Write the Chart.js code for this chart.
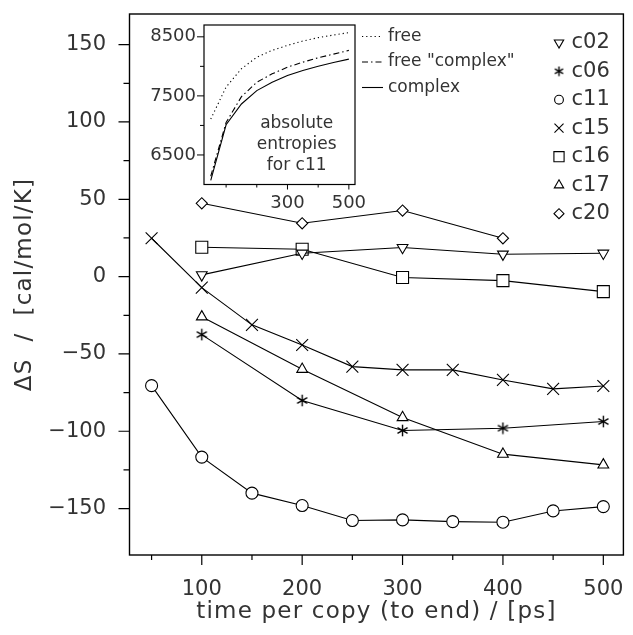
<!DOCTYPE html>
<html>
<head>
<meta charset="utf-8">
<script src="https://cdn.jsdelivr.net/npm/chart.js@4.4.1/dist/chart.umd.min.js"></script>
<style>
  html, body { margin: 0; padding: 0; background: #fff; }
  #wrap { position: relative; width: 633px; height: 635px; }
  #main { position: absolute; left: 0; top: 0; }
  #inset { position: absolute; left: 140px; top: 15px; }
</style>
</head>
<body>
<div id="wrap">
  <canvas id="main" width="633" height="635"></canvas>
  <canvas id="inset" width="225" height="205"></canvas>
</div>
<script>
// main plot: entropy differences per system
const seriesNames = ['c02', 'c06', 'c11', 'c15', 'c16', 'c17', 'c20'];
const timesShort = [100, 200, 300, 400, 500];
const timesLong = [50, 100, 150, 200, 250, 300, 350, 400, 450, 500];
const timesC20 = [100, 200, 300, 400];

const c02 = [1.1, 15.1, 18.8, 14.5, 15.1];
const c06 = [-37.5, -80.1, -99.5, -98, -93.7];
const c11 = [-70.5, -116.7, -140, -148, -157.7, -157.3, -158.4, -158.8, -151.5, -148.7];
const c15 = [24.8, -7.1, -31.2, -44.2, -58.2, -60.3, -60.3, -66.8, -72.6, -70.7];
const c16 = [19.0, 17.7, -0.6, -2.6, -9.7];
const c17 = [-26, -59.9, -91.1, -114.8, -121.7];
const c20 = [47.4, 34.5, 42.7, 24.8];

const xTicks = [100, 200, 300, 400, 500];
const yTicks = [-150, -100, -50, 0, 50, 100, 150];

// inset: absolute entropies for c11
const insetTimes = [50, 100, 150, 200, 250, 300, 350, 400, 450, 500];
const freeS = [7108, 7650, 7959, 8156, 8270, 8355, 8429, 8486, 8530, 8571];
const freeComplexS = [6140, 7050, 7487, 7731, 7873, 7986, 8071, 8146, 8207, 8270];
const complexS = [6069, 7011, 7363, 7589, 7731, 7845, 7930, 8003, 8066, 8122];
const insetXTicks = [300, 500];
const insetYTicks = [6500, 7500, 8500];
const lineLegend = ['free', 'free "complex"', 'complex'];

const FONT = 'DejaVu Sans';
const INK = '#333';
Chart.defaults.font.family = FONT;
Chart.defaults.color = INK;

const pts = (xs, ys) => xs.map((x, i) => ({ x: x, y: ys[i] }));
const minus = v => (v < 0 ? '\u2212' + Math.abs(v) : String(v));

// fixed scale size, no extra label overflow padding
const fixSize = (w, h) => s => {
  if (w !== null) s.width = w;
  if (h !== null) s.height = h;
  s.paddingLeft = s.paddingRight = s.paddingTop = s.paddingBottom = 0;
};

// six-armed asterisk marker
function asterisk(size) {
  const c = document.createElement('canvas');
  c.width = c.height = size;
  const g = c.getContext('2d');
  g.strokeStyle = '#000';
  g.lineWidth = 1.4;
  const m = size / 2, r = size / 2 - 0.7;
  for (let k = 0; k < 3; k++) {
    const a = Math.PI / 2 + k * Math.PI / 3;
    g.beginPath();
    g.moveTo(m + r * Math.cos(a), m + r * Math.sin(a));
    g.lineTo(m - r * Math.cos(a), m - r * Math.sin(a));
    g.stroke();
  }
  return c;
}

const markers = {
  c02: { style: 'triangle', radius: 6.2, rotation: 180 },
  c06: { style: asterisk(13), radius: 6, rotation: 0 },
  c11: { style: 'circle', radius: 6, rotation: 0 },
  c15: { style: 'crossRot', radius: 8.4, rotation: 0 },
  c16: { style: 'rect', radius: 8.5, rotation: 0 },
  c17: { style: 'triangle', radius: 6.2, rotation: 0 },
  c20: { style: 'rectRot', radius: 5.6, rotation: 0 }
};
const legendMarkers = {
  c02: { style: 'triangle', radius: 5.4, rotation: 180 },
  c06: { style: asterisk(11), radius: 5, rotation: 0 },
  c11: { style: 'circle', radius: 4.4, rotation: 0 },
  c15: { style: 'crossRot', radius: 6.4, rotation: 0 },
  c16: { style: 'rect', radius: 7.2, rotation: 0 },
  c17: { style: 'triangle', radius: 5.4, rotation: 0 },
  c20: { style: 'rectRot', radius: 5, rotation: 0 }
};

function series(name, xs, ys) {
  const m = markers[name];
  return {
    label: name,
    data: pts(xs, ys),
    borderColor: '#000',
    borderWidth: 1.1,
    pointStyle: m.style,
    pointRadius: m.radius,
    pointRotation: m.rotation,
    pointBorderColor: '#000',
    pointBackgroundColor: '#fff',
    pointBorderWidth: 1.1,
    tension: 0
  };
}

// axis titles are drawn a little letter-spaced, like the plotter font
const spacedTitles = {
  id: 'spacedTitles',
  afterLayout(chart) {
    Object.values(chart.scales).forEach(s => {
      if (s._spaced) return;
      const orig = s.drawTitle;
      s.drawTitle = function () {
        this.ctx.save();
        this.ctx.letterSpacing = '1.2px';
        orig.call(this);
        this.ctx.restore();
      };
      s._spaced = true;
    });
  }
};

const mainDecor = {
  id: 'mainDecor',
  afterDatasetsDraw(chart) {
    const { ctx, chartArea: a, scales: { x, y } } = chart;
    ctx.save();
    ctx.strokeStyle = '#000';
    ctx.lineWidth = 1.4;
    ctx.strokeRect(a.left, a.top, a.right - a.left, a.bottom - a.top);
    ctx.lineWidth = 1.2;
    ctx.beginPath();
    for (let v = -150; v <= 150; v += 25) {
      const py = y.getPixelForValue(v);
      const len = v % 50 === 0 ? 11 : 6;
      ctx.moveTo(a.left - len, py);
      ctx.lineTo(a.left, py);
    }
    for (let v = 50; v <= 500; v += 50) {
      const px = x.getPixelForValue(v);
      const len = v % 100 === 0 ? 10 : 5;
      ctx.moveTo(px, a.bottom);
      ctx.lineTo(px, a.bottom + len);
    }
    ctx.stroke();

    // marker legend
    ctx.font = '21px "' + FONT + '"';
    ctx.fillStyle = INK;
    ctx.textBaseline = 'middle';
    ctx.textAlign = 'left';
    seriesNames.forEach((n, i) => {
      const ly = 42.7 + i * 28.5;
      const m = legendMarkers[n];
      ctx.save();
      ctx.strokeStyle = '#000';
      ctx.fillStyle = '#fff';
      ctx.lineWidth = 1.1;
      Chart.helpers.drawPoint(ctx, { pointStyle: m.style, radius: m.radius, rotation: m.rotation, borderWidth: 1.1 }, 559, ly);
      ctx.restore();
      ctx.fillText(n, 571.5, ly);
    });

    // line legend for the inset
    const dashes = [[1.2, 3], [6, 3, 1.5, 3], []];
    ctx.font = '17px "' + FONT + '"';
    lineLegend.forEach((t, i) => {
      const ly = 36.5 + i * 25.5;
      ctx.save();
      ctx.setLineDash(dashes[i]);
      ctx.lineWidth = 1.1;
      ctx.beginPath();
      ctx.moveTo(362, ly);
      ctx.lineTo(383, ly);
      ctx.stroke();
      ctx.restore();
      ctx.fillText(t, 388, ly);
    });
    ctx.restore();
  }
};

new Chart(document.getElementById('main'), {
  type: 'line',
  data: {
    datasets: [
      series('c02', timesShort, c02),
      series('c06', timesShort, c06),
      series('c11', timesLong, c11),
      series('c15', timesLong, c15),
      series('c16', timesShort, c16),
      series('c17', timesShort, c17),
      series('c20', timesC20, c20)
    ]
  },
  options: {
    responsive: false,
    animation: false,
    events: [],
    layout: { padding: { top: 14, right: 3.7, left: 0, bottom: 0 } },
    scales: {
      x: {
        type: 'linear',
        min: 28,
        max: 520,
        afterBuildTicks: s => { s.ticks = xTicks.map(v => ({ value: v })); },
        afterFit: fixSize(null, 80),
        grid: { display: false, drawTicks: false },
        border: { display: false },
        ticks: { padding: 22, font: { size: 21 }, color: INK, maxRotation: 0, callback: v => minus(v) },
        title: {
          display: true,
          text: 'time per copy (to end) / [ps]',
          font: { size: 23 },
          color: INK,
          padding: { top: 0, bottom: 9 }
        }
      },
      y: {
        type: 'linear',
        min: -180,
        max: 169.8,
        afterBuildTicks: s => { s.ticks = yTicks.map(v => ({ value: v })); },
        afterFit: fixSize(129.5, null),
        grid: { display: false, drawTicks: false },
        border: { display: false },
        ticks: { padding: 23.5, font: { size: 21 }, color: INK, callback: v => minus(v) },
        title: {
          display: true,
          text: '\u0394S  /  [cal/mol/K]',
          font: { size: 23 },
          color: INK,
          padding: { top: 11, bottom: 0 }
        }
      }
    },
    plugins: { legend: { display: false }, tooltip: { enabled: false } }
  },
  plugins: [mainDecor, spacedTitles]
});

const insetDecor = {
  id: 'insetDecor',
  beforeDatasetsDraw(chart) {
    const { ctx, chartArea: a } = chart;
    ctx.save();
    ctx.fillStyle = '#fff';
    ctx.fillRect(a.left, a.top, a.right - a.left, a.bottom - a.top);
    ctx.restore();
  },
  afterDatasetsDraw(chart) {
    const { ctx, chartArea: a, scales: { x, y } } = chart;
    ctx.save();
    ctx.strokeStyle = '#000';
    ctx.lineWidth = 1.2;
    ctx.strokeRect(a.left, a.top, a.right - a.left, a.bottom - a.top);
    ctx.lineWidth = 1;
    ctx.beginPath();
    for (let v = 6500; v <= 8500; v += 500) {
      const py = y.getPixelForValue(v);
      const len = v % 1000 === 500 ? 7 : 4;
      ctx.moveTo(a.left - len, py);
      ctx.lineTo(a.left, py);
    }
    for (let v = 100; v <= 500; v += 100) {
      const px = x.getPixelForValue(v);
      const len = insetXTicks.includes(v) ? 5 : 3;
      ctx.moveTo(px, a.bottom);
      ctx.lineTo(px, a.bottom + len);
    }
    ctx.stroke();
    ctx.font = '17px "' + FONT + '"';
    ctx.fillStyle = INK;
    ctx.textAlign = 'center';
    ctx.textBaseline = 'middle';
    ['absolute', 'entropies', 'for c11'].forEach((t, i) => {
      ctx.fillText(t, 156.7, 108.5 + i * 21);
    });
    ctx.restore();
  }
};

function insetLine(label, ys, dash) {
  return {
    label: label,
    data: pts(insetTimes, ys),
    borderColor: '#000',
    borderWidth: 1.1,
    borderDash: dash,
    pointRadius: 0,
    tension: 0
  };
}

new Chart(document.getElementById('inset'), {
  type: 'line',
  data: {
    datasets: [
      insetLine(lineLegend[0], freeS, [1.2, 3]),
      insetLine(lineLegend[1], freeComplexS, [6, 3, 1.5, 3]),
      insetLine(lineLegend[2], complexS, [])
    ]
  },
  options: {
    responsive: false,
    animation: false,
    events: [],
    layout: { padding: { top: 10, right: 10, left: 0, bottom: 0 } },
    scales: {
      x: {
        type: 'linear',
        min: 28,
        max: 520,
        afterBuildTicks: s => { s.ticks = insetXTicks.map(v => ({ value: v })); },
        afterFit: fixSize(null, 35.5),
        grid: { display: false, drawTicks: false },
        border: { display: false },
        ticks: { padding: 8, font: { size: 18 }, color: INK, maxRotation: 0 }
      },
      y: {
        type: 'linear',
        min: 6000,
        max: 8700,
        afterBuildTicks: s => { s.ticks = insetYTicks.map(v => ({ value: v })); },
        afterFit: fixSize(64, null),
        grid: { display: false, drawTicks: false },
        border: { display: false },
        ticks: { padding: 8, font: { size: 18 }, color: INK, callback: v => String(v) }
      }
    },
    plugins: { legend: { display: false }, tooltip: { enabled: false } }
  },
  plugins: [insetDecor]
});
</script>
</body>
</html>
